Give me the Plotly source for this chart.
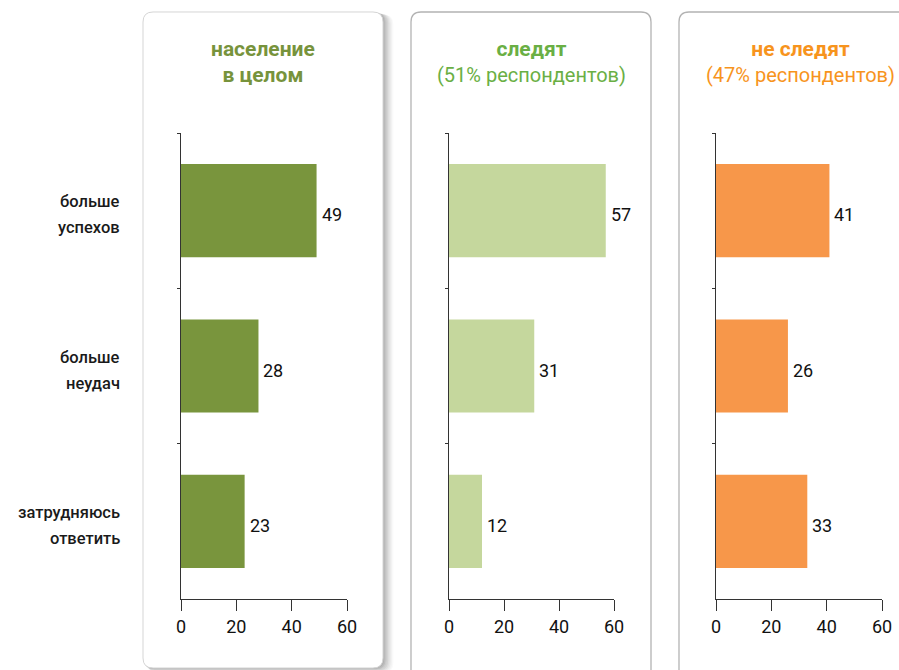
import plotly.graph_objects as go

categories = ["больше<br>успехов", "больше<br>неудач", "затрудняюсь<br>ответить"]
total = [49, 28, 23]
follow = [57, 31, 12]
not_follow = [41, 26, 33]
x_ticks = [0, 20, 40, 60]

panel_titles = [
    ("<span style='font-size:21px'><b>население</b><br><b>в целом</b></span>", "#77933c"),
    ("<span style='font-size:21px'><b>следят</b></span><br>(51% респондентов)", "#6aaf44"),
    ("<span style='font-size:21px'><b>не следят</b></span><br>(47% респондентов)", "#f7941d"),
]
bar_colors = ["#79953d", "#c5d79d", "#f7974a"]

W, H = 899, 670
FONT = "Roboto"


def X(v):
    return f"{v / W:.5f}"


def Y(v):
    return f"{1 - v / H:.5f}"


def rrect(x0, y0, x1, y1, r):
    return (f"M {X(x0 + r)},{Y(y0)} L {X(x1 - r)},{Y(y0)} Q {X(x1)},{Y(y0)} {X(x1)},{Y(y0 + r)} "
            f"L {X(x1)},{Y(y1 - r)} Q {X(x1)},{Y(y1)} {X(x1 - r)},{Y(y1)} L {X(x0 + r)},{Y(y1)} "
            f"Q {X(x0)},{Y(y1)} {X(x0)},{Y(y1 - r)} L {X(x0)},{Y(y0 + r)} Q {X(x0)},{Y(y0)} {X(x0 + r)},{Y(y0)} Z")


fig = go.Figure()

series = [total, follow, not_follow]
x_domains = [(181, 347), (449, 614), (716, 882)]
y_dom = [1 - 599 / H, 1 - 133 / H]
annotations = []

for i, (vals, col) in enumerate(zip(series, bar_colors)):
    sfx = "" if i == 0 else str(i + 1)
    fig.add_trace(go.Bar(
        y=categories, x=vals, orientation="h",
        xaxis="x" + sfx, yaxis="y" + sfx,
        marker=dict(color=col, line=dict(width=0)),
        width=0.6, showlegend=False, hoverinfo="skip",
    ))
    for c, v in zip(categories, vals):
        annotations.append(dict(text=str(v), x=v, y=c, xref="x" + sfx, yref="y" + sfx,
                                xanchor="left", yanchor="middle", xshift=3, yshift=-4,
                                showarrow=False,
                                font=dict(family=FONT, size=18, color="#111111")))
    d0, d1 = x_domains[i]
    fig.update_layout(**{
        "xaxis" + sfx: dict(
            domain=[d0 / W, d1 / W], anchor="y" + sfx, range=[0, 60],
            tickvals=x_ticks, ticks="outside", ticklen=11, tickwidth=1, tickcolor="#333333",
            showline=True, linecolor="#333333", linewidth=1, showgrid=False, zeroline=False,
            tickfont=dict(family=FONT, size=18, color="#111111"), automargin=False,
        ),
        "yaxis" + sfx: dict(
            domain=y_dom, anchor="x" + sfx, type="category",
            categoryarray=categories, categoryorder="array", autorange="reversed",
            tickson="boundaries", ticks="outside", ticklen=3, tickcolor="#333333",
            showline=True, linecolor="#333333", linewidth=1, showgrid=False, zeroline=False,
            showticklabels=False, automargin=False,
        ),
    })

# category labels (two lines each), placed on the first panel's category axis
for c in categories:
    lines = c.split("<br>")
    n = len(lines)
    for j, line in enumerate(lines):
        annotations.append(dict(text=line, x=122 / W, y=c, xref="paper", yref="y",
                                xanchor="right", yanchor="middle",
                                yshift=-4 + (n - 1) * 13 - j * 26, showarrow=False,
                                font=dict(family=FONT, size=16.5, color="#1a1a1a", weight=500)))

shapes = []
# shadow for first panel
for k in range(1, 9):
    shapes.append(dict(type="path", xref="paper", yref="paper", layer="below",
                       path=rrect(143 + k * 0.6, 12 + k * 0.3, 383 + k * 1.3, 668 + k * 0.6, 10),
                       fillcolor=f"rgba(0,0,0,{0.07 - k * 0.006:.3f})", line=dict(width=0)))
shapes.append(dict(type="path", xref="paper", yref="paper", layer="below",
                   path=rrect(143, 12, 383, 668, 10),
                   fillcolor="white", line=dict(color="#d5d5d5", width=1)))
shapes.append(dict(type="path", xref="paper", yref="paper", layer="below",
                   path=rrect(411, 12, 651, 680, 10),
                   fillcolor="white", line=dict(color="#b3b3b3", width=1.3)))
shapes.append(dict(type="path", xref="paper", yref="paper", layer="below",
                   path=rrect(679, 12, 920, 680, 10),
                   fillcolor="white", line=dict(color="#b3b3b3", width=1.3)))

centers = [263, 531, 800]
for (txt, col), cx in zip(panel_titles, centers):
    annotations.append(dict(text=txt, x=cx / W, y=1 - 62 / H, xref="paper", yref="paper",
                            xanchor="center", yanchor="middle", showarrow=False,
                            font=dict(family=FONT, size=20, color=col), align="center"))

fig.update_layout(
    width=W, height=H, margin=dict(l=0, r=0, t=0, b=0, pad=0),
    paper_bgcolor="white", plot_bgcolor="rgba(0,0,0,0)",
    shapes=shapes, annotations=annotations, bargap=0.4,
    font=dict(family=FONT),
)

fig.write_html("out.html", config={"displayModeBar": False},
               post_script="document.body.style.margin='0';document.body.style.overflow='hidden';")
